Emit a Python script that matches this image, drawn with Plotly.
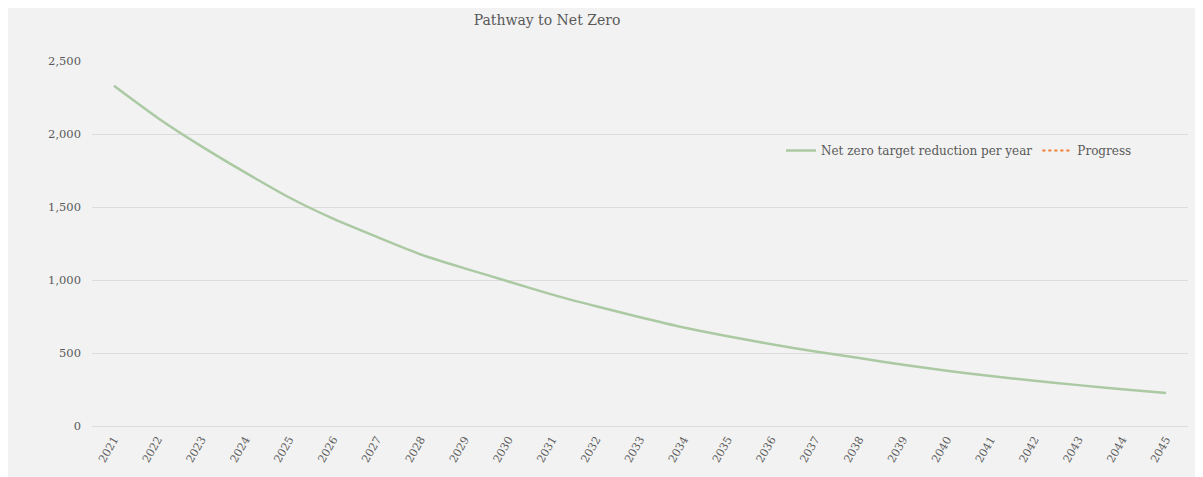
import plotly.graph_objects as go

years = [str(y) for y in range(2021, 2046)]
net_zero_target = [2330, 2110, 1915, 1735, 1565, 1420, 1295, 1175, 1080, 990,
                   900, 820, 745, 675, 615, 560, 510, 465, 420, 378,
                   342, 310, 280, 252, 226]
progress = [None] * len(years)

y_ticks = [0, 500, 1000, 1500, 2000, 2500]
y_tick_labels = ["0", "500", "1,000", "1,500", "2,000", "2,500"]

# page has an 8px body margin: work in figure coordinates
OFF = 8
W, H = 1203 - OFF, 477 - OFF
L, R, T, B = 92 - OFF, 1188 - OFF, 61 - OFF, 428 - OFF

FONT = "DejaVu Serif"
GREY = "#595959"
GRID = "#dcdcdc"

fig = go.Figure()
fig.add_trace(go.Scatter(
    x=years, y=net_zero_target, mode="lines",
    name="Net zero target reduction per year",
    line=dict(color="#abc9a3", width=2.5, shape="spline", smoothing=0.6),
))
fig.add_trace(go.Scatter(
    x=years, y=progress, mode="lines", name="Progress",
    line=dict(color="#ed7d31", width=2, dash="dot"),
))

def px_x(p):  # page px -> paper
    return (p - OFF - L) / (R - L)

def px_y(p):
    return (B - (p - OFF)) / (B - T)

fig.add_shape(type="rect", xref="paper", yref="paper",
              x0=px_x(0), x1=px_x(1197), y0=px_y(490), y1=px_y(0),
              fillcolor="#f2f2f2", line_width=0, layer="below")

fig.update_layout(
    width=W, height=H,
    margin=dict(l=L, r=W - R, t=T, b=H - B, pad=0),
    paper_bgcolor="white",
    plot_bgcolor="rgba(0,0,0,0)",
    font=dict(family=FONT, color=GREY, size=11),
    title=dict(text="Pathway to Net Zero", x=(547 - OFF) / W, xanchor="center",
               y=1 - (20 - OFF) / H, yanchor="middle",
               font=dict(family=FONT, size=14, color=GREY)),
    showlegend=True,
    legend=dict(orientation="h", x=px_x(781), xanchor="left",
                y=px_y(151), yanchor="middle",
                bgcolor="rgba(0,0,0,0)",
                font=dict(family=FONT, size=12, color=GREY),
                itemwidth=30),
    xaxis=dict(type="category", range=[-0.5, len(years) - 0.5],
               tickangle=-60, tickfont=dict(size=11, color=GREY),
               showgrid=False, showline=False, zeroline=False, ticks="",
               ticklabelstandoff=4),
    yaxis=dict(range=[0, 2500], tickvals=y_ticks, ticktext=y_tick_labels,
               showgrid=True, gridcolor=GRID, gridwidth=1,
               zeroline=True, zerolinecolor=GRID, zerolinewidth=1,
               showline=False, ticks="",
               tickfont=dict(size=11.5, color=GREY), ticklabelstandoff=10),
)

fig.write_html("out.html")
